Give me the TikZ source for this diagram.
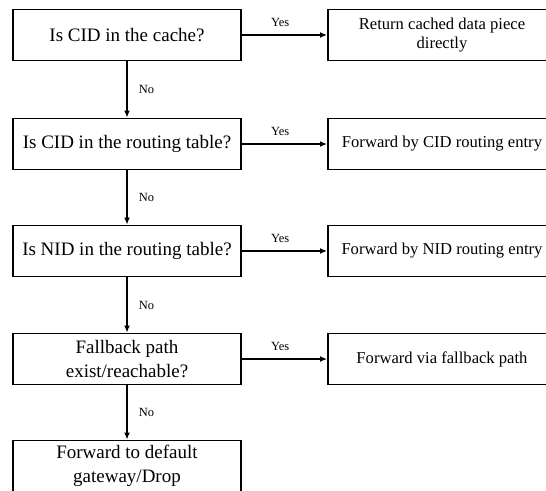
\documentclass[tikz,border=0pt]{standalone}
\usepackage{fontspec}
\setmainfont{Liberation Serif}
\usetikzlibrary{arrows.meta}
\begin{document}
\begin{tikzpicture}[x=1pt,y=-1pt,
  lbox/.style={draw, line width=1.9pt, minimum width=228pt, minimum height=51pt, inner sep=0pt, align=center, font=\fontsize{19}{24}\selectfont},
  rbox/.style={draw, line width=1.9pt, minimum width=228pt, minimum height=51pt, inner sep=0pt, align=center, font=\fontsize{16.6}{19.5}\selectfont},
  arr/.style={line width=1.9pt, -{Latex[length=7pt,width=6pt]}},
  lab/.style={font=\fontsize{12.5}{14}\selectfont, inner sep=0pt}
]
\path[use as bounding box] (0,0) rectangle (546,490);
\clip (0,0) rectangle (546,490);
\node[lbox] (l1) at (127,35) {Is CID in the cache?};
\node[lbox] (l2) at (127,144) {Is CID in the routing table?};
\node[lbox] (l3) at (127,251) {Is NID in the routing table?};
\node[lbox] (l4) at (127,359) {Fallback path\\exist/reachable?};
\node[lbox] (l5) at (127,466) {Forward to default\\gateway/Drop};
\node[rbox] (r1) at (442,35) {Return cached data piece\\directly};
\node[rbox] (r2) at (442,144) {Forward by CID routing entry};
\node[rbox] (r3) at (442,251) {Forward by NID routing entry};
\node[rbox] (r4) at (442,359) {Forward via fallback path};
\foreach \i in {1,2,3,4} {
  \draw[arr] (l\i.east) -- (r\i.west) node[lab, pos=0.45, above=7pt] {Yes};
}
\foreach \i/\j in {1/2,2/3,3/4,4/5} {
  \draw[arr] (l\i.south) -- (l\j.north) node[lab, midway, right=11pt] {No};
}
\end{tikzpicture}
\end{document}
